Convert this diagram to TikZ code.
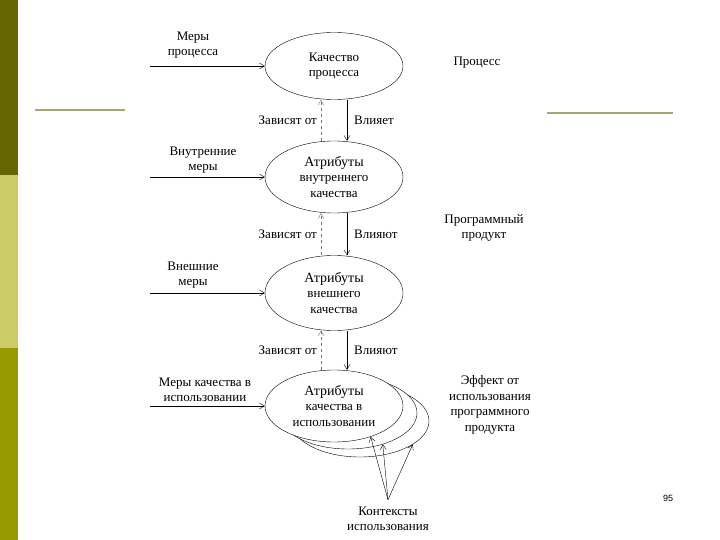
\documentclass[tikz,border=0pt]{standalone}
\usepackage{fontspec}
\setmainfont{Liberation Serif}
\newfontfamily\numfont{Liberation Sans}
\usetikzlibrary{arrows.meta,positioning,shapes.geometric}
\definecolor{bardark}{HTML}{666600}
\definecolor{barlight}{HTML}{CCCC66}
\definecolor{barmid}{HTML}{999900}
\definecolor{rulekhaki}{HTML}{A8A474}
\newcommand{\attrhead}[1]{{\fontsize{14}{15.5}\selectfont #1}}

\begin{document}
\begin{tikzpicture}[x=1pt, y=-1pt,
  font=\fontsize{13}{15.5}\selectfont,
  attr/.style={ellipse, draw, fill=white, minimum width=138pt,
               minimum height=72pt, inner sep=0pt, align=center},
  lbl/.style={align=center, inner sep=1pt},
  ar/.style={-{Straight Barb[length=5pt,width=6pt]}, thin},
  dep/.style={ar, dashed, draw=black!55},
  lab/.style={inner sep=4pt}]
\useasboundingbox (0,0) rectangle (720,540);
% slide frame
\fill[bardark] (0,0) rectangle (18,175);
\fill[barlight] (0,175) rectangle (18,348);
\fill[barmid] (0,348) rectangle (18,540);
\draw[rulekhaki, line width=2.5pt] (35,110) -- (125,110);
\draw[rulekhaki, line width=2.5pt] (547,113) -- (673,113);
\node[font=\numfont\fontsize{9}{10}\selectfont] (pg) at (668,498) {95};
% quality levels
\node[attr, minimum height=67pt] (proc) at (334,66) {Качество\\процесса};
\node[attr] (inner) at (334,177) {\attrhead{Атрибуты}\\внутреннего\\качества};
\node[attr, minimum height=75pt] (ext) at (334,293) {\attrhead{Атрибуты}\\внешнего\\качества};
\node[attr] (use3) at (360,421) {};
\node[attr] (use2) at (348,413) {};
\node[attr] (use) at (334,406) {\attrhead{Атрибуты}\\качества в\\использовании};
% measures
\node[lbl] (mproc) at (193,45) {Меры\\процесса};
\node[lbl] (minner) at (203,160) {Внутренние\\меры};
\node[lbl] (mext) at (193,275) {Внешние\\меры};
\node[lbl] (muse) at (205,390) {Меры качества в\\использовании};
\draw[ar] ([xshift=-115pt]proc.west) -- (proc.west);
\draw[ar] ([xshift=-115pt]inner.west) -- (inner.west);
\draw[ar] ([xshift=-115pt]ext.west) -- (ext.west);
\draw[ar] ([xshift=-115pt]use.west) -- (use.west);
% dependencies
\draw[dep] ([xshift=-13pt]inner.north) -- node[lab, left]{Зависят от} ([xshift=-13pt]proc.south);
\draw[ar] ([xshift=13pt]proc.south) -- node[lab, right, xshift=3pt]{Влияет} ([xshift=13pt]inner.north);
\draw[dep] ([xshift=-13pt]ext.north) -- node[lab, left]{Зависят от} ([xshift=-13pt]inner.south);
\draw[ar] ([xshift=13pt]inner.south) -- node[lab, right, xshift=3pt]{Влияют} ([xshift=13pt]ext.north);
\draw[dep] ([xshift=-13pt]use.north) -- node[lab, left]{Зависят от} ([xshift=-13pt]ext.south);
\draw[ar] ([xshift=13pt]ext.south) -- node[lab, right, xshift=3pt]{Влияют} ([xshift=13pt]use.north);
% right column
\node[lbl] (lproc) at (477,63) {Процесс};
\node[lbl] (lprod) at (484,228) {Программный\\продукт};
\node[lbl] (leff) at (490,405) {Эффект от\\использования\\программного\\продукта};
% contexts
\node[lbl] (ctx) at (388,519) {Контексты\\использования};
\coordinate (apex) at ([yshift=6pt]ctx.north);
\draw[ar] (apex) -- (use.-40);
\draw[ar] (apex) -- (use2.-42);
\draw[ar] (apex) -- (use3.-24);
\end{tikzpicture}
\end{document}
